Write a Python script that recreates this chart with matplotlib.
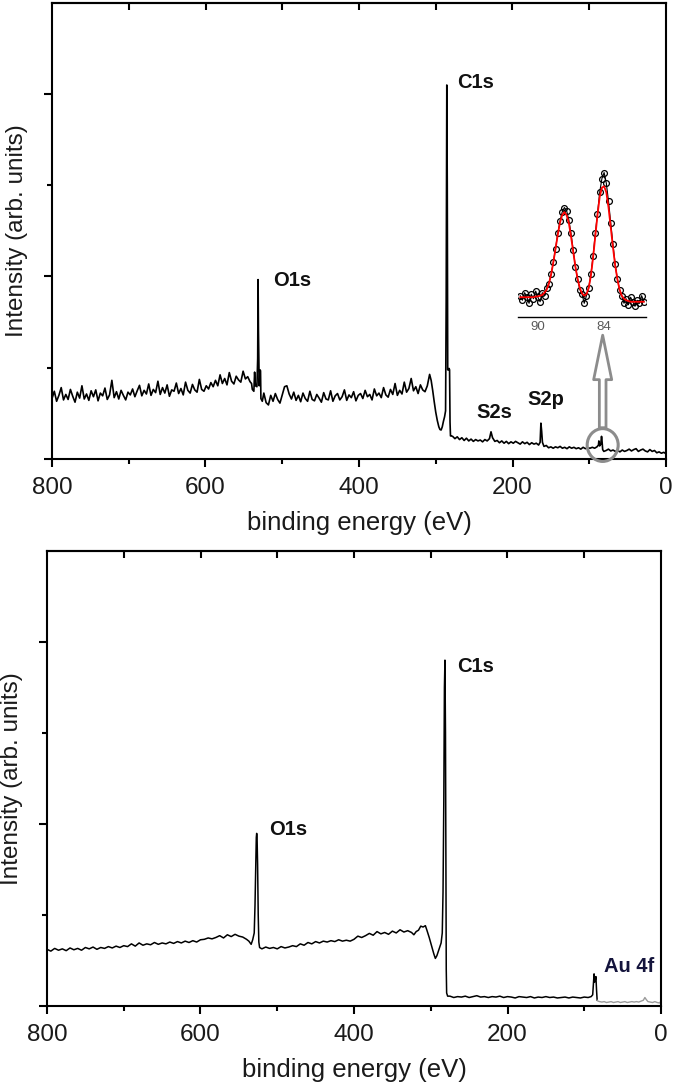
import numpy as np
import matplotlib
matplotlib.use("Agg")
import matplotlib.pyplot as plt
from matplotlib.patches import Ellipse
from matplotlib.ticker import MultipleLocator, FixedLocator, NullFormatter

plt.rcParams['font.family'] = ['Liberation Sans', 'DejaVu Sans']

# ---------------- top survey spectrum (intensity in % of axis height) ----------------
top_energy_a = np.arange(800, 700, -3)
top_int_a = [13.2, 14.8, 12.6, 13.9, 15.6, 12.9, 14.1, 13.0, 15.2, 13.7,
             12.4, 14.6, 13.3, 16.0, 13.1, 14.2, 12.8, 14.9, 13.6, 15.1,
             12.7, 14.4, 13.8, 15.5, 13.0, 14.0, 17.2, 13.4, 14.7, 13.1,
             15.0, 13.9, 12.9, 14.6]
top_energy_b = np.arange(698, 598, -3)
top_int_b = [14.0, 15.3, 13.6, 14.9, 16.1, 13.8, 15.0, 14.2, 16.4, 13.9,
             15.2, 14.5, 17.0, 14.1, 15.6, 14.4, 16.2, 13.7, 15.1, 14.8,
             16.6, 14.3, 15.4, 14.0, 16.8, 15.0, 14.4, 16.3, 15.1, 14.6,
             17.4, 15.2, 14.8, 16.0]
top_energy_c = np.arange(596, 541, -3)
top_int_c = [15.3, 16.7, 15.8, 17.2, 16.0, 18.4, 16.5, 17.6, 16.2, 18.9,
             17.0, 16.4, 18.1, 17.3, 16.8, 19.2, 17.5, 18.0, 16.9]
top_energy_o1s = [540, 539, 537, 536, 535, 533, 532, 531.5, 531, 530, 529, 528.3, 527.8, 526, 524, 521]
top_int_o1s = [16.5, 15.2, 14.8, 19.0, 16.0, 15.8, 22.0, 39.3, 28.0, 16.0, 19.5, 19.3, 13.2, 12.6, 14.4, 12.3]
top_energy_d = np.arange(518, 307, -3)
top_int_d = [11.8, 13.9, 12.6, 14.3, 13.0, 12.2, 14.0, 15.8,
             16.0, 14.2, 13.1, 14.6, 12.8, 13.9, 12.5, 14.4, 13.2, 12.6, 14.8, 13.0, 12.7, 14.1, 13.3,
             12.4, 14.5, 13.1, 12.9, 14.9, 12.6, 13.8, 14.3, 12.9, 13.6, 15.1, 12.8, 14.0, 13.4, 14.7, 12.7, 13.9,
             14.3, 13.2, 15.0, 13.6, 14.1, 12.9, 15.3, 13.8, 14.4, 13.4, 15.6, 14.0, 13.5, 15.2, 14.1, 16.5, 13.9,
             15.0, 14.2, 16.8, 14.6, 15.4, 17.6, 14.9, 15.8, 14.3, 16.2, 15.1, 14.7, 16.0, 18.5]
top_energy_c1s = [306, 304, 302, 300, 298, 296, 294.5, 293, 291.5, 290, 288.5, 287.2, 286.4,
                  285.6, 285.0, 284.4, 283.2, 282.6, 282.0, 281.4, 280.8]
top_int_c1s = [17.2, 15.0, 12.5, 10.2, 8.4, 7.0, 6.4, 6.3, 7.0, 8.2, 9.2, 10.5, 35.0,
               82.0, 60.0, 19.5, 19.5, 19.8, 19.5, 8.0, 5.0]
top_energy_e = [279.8, 278, 275, 272, 269, 266, 263, 260, 257, 254,
                251, 248, 245, 242, 239, 236, 233, 230, 228, 226,
                223, 220, 217, 214, 211, 208, 205, 202, 199, 196,
                193, 190, 187, 184, 181, 178, 175, 172, 169, 166,
                164, 163, 162, 161, 159, 156, 153, 150, 147, 144,
                141, 138, 135, 132, 129, 126, 123, 120, 117, 114,
                111, 108, 105, 102, 99, 96, 93, 90, 88, 87.5,
                86.5, 85, 84, 83.5, 82.5, 81, 78, 75, 72, 69,
                66, 63, 60, 57, 54, 51, 48, 45, 42, 39,
                36, 33, 30, 27, 24, 21, 18, 15, 12, 9,
                6, 3, 0]
top_int_e = [5.0, 4.9, 4.4, 4.8, 4.2, 4.6, 4.0, 4.5, 3.9, 4.3,
             3.8, 4.2, 3.9, 4.1, 3.7, 4.2, 3.9, 4.4, 5.9, 4.6,
             3.8, 4.0, 3.5, 3.9, 3.4, 3.8, 3.3, 3.7, 3.4, 3.8,
             3.5, 3.2, 3.7, 3.3, 3.6, 3.1, 3.5, 3.2, 3.4, 3.0,
             3.6, 7.8, 6.0, 3.6, 2.7, 2.9, 2.4, 2.6, 2.3, 2.6,
             2.4, 2.7, 2.3, 2.5, 2.2, 2.6, 2.3, 2.5, 2.2, 2.4,
             2.1, 2.5, 2.2, 2.4, 2.3, 2.5, 2.3, 2.6, 3.0, 3.9,
             2.8, 3.2, 4.9, 4.2, 2.0, 1.6, 1.8, 2.1, 1.7, 1.9,
             1.6, 1.8, 1.5, 1.9, 1.6, 1.8, 2.1, 1.7, 2.0, 2.2,
             1.6, 1.9, 2.1, 1.7, 1.5, 2.0, 1.6, 1.8, 1.3, 1.5,
             1.2, 1.4, 1.1]

# ---------------- inset: Au 4f high resolution ----------------
inset_energy = np.round(np.arange(91.6, 80.3, -0.2), 1)
inset_counts = [14, 11, 16, 13, 9, 15, 12, 17, 13, 10, 16, 14,
                19, 22, 28, 36, 45, 55, 63, 69, 72, 70, 64, 55, 44, 33, 25, 18, 15,
                9, 14, 19, 28, 40, 55, 68, 82, 91, 95, 88, 76, 62, 48, 35, 25, 18, 14,
                9, 12, 8, 13, 10, 7, 11, 9, 14, 10]
inset_fit = [13, 13, 13, 13, 13, 13, 13, 13.5, 13.5, 14, 14.5, 16,
             18, 22, 28, 36, 45, 54, 62, 67, 69, 67, 62, 53, 43, 33, 25, 19, 15.5,
             14, 15, 19, 27, 39, 53, 67, 79, 85, 86, 82, 72, 59, 46, 34, 25, 18, 14,
             12, 11, 10.5, 10, 10, 10, 10, 10, 10, 10]

# ---------------- bottom survey spectrum ----------------
bot_energy_a = np.arange(800, 539, -5)
bot_int_a = [12.4, 12.0, 12.6, 12.2, 12.5, 12.1, 12.7, 12.3, 12.6, 12.2,
             12.8, 12.5, 12.9, 12.4, 12.8, 12.6, 13.0, 12.7, 13.1, 12.8,
             13.2, 13.0, 13.6, 13.1, 13.8, 13.3, 13.6, 13.4, 13.9, 13.5,
             13.8, 13.6, 14.0, 13.7, 14.1, 13.8, 14.2, 13.9, 14.3, 14.0,
             14.5, 14.6, 14.9, 14.7, 15.0, 15.4, 14.9, 15.6, 15.2, 15.7,
             15.3, 15.1, 14.6]
bot_energy_o1s = [537, 534, 532, 530, 529, 528, 527.3, 526.8, 526.3, 525.6, 524.8, 524, 523, 520]
bot_int_o1s = [14.2, 13.5, 14.5, 16.0, 22.0, 31.0, 37.0, 37.9, 37.0, 31.0, 20.0, 14.0, 12.8, 12.5]
bot_energy_b = np.arange(515, 324, -5)
bot_int_b = [12.9, 12.6, 12.8, 12.5, 13.0, 12.7, 12.9, 13.2, 13.0, 13.6,
             13.3, 13.9, 13.6, 14.1, 13.8, 14.2, 14.0, 14.3, 14.1, 14.5,
             14.2, 14.4, 14.2, 14.6, 15.3, 15.0, 15.4, 15.9, 15.5, 16.3,
             15.8, 16.1, 15.7, 16.4, 16.0, 16.7, 16.2, 16.5, 16.1]
bot_energy_c1s = [322, 319, 316, 313, 310, 307, 305, 302, 300, 298,
                  296, 294, 292, 290, 288, 286.5, 285, 284, 283, 282.2,
                  281.5, 280.8, 280.3, 279.8, 279.3, 278]
bot_int_c1s = [15.6, 16.3, 16.6, 17.5, 17.3, 17.6, 16.6, 15.0, 13.8, 12.6,
               11.4, 10.4, 11.0, 12.0, 13.0, 13.8, 16.0, 25.0, 45.0, 70.0,
               76.0, 60.0, 30.0, 8.0, 2.8, 2.1]
bot_energy_flat = np.arange(275, 94, -5)
bot_int_flat = [2.1, 1.8, 2.0, 1.9, 2.1, 1.8, 2.0, 2.2, 1.9, 2.0,
                1.8, 2.0, 1.9, 2.1, 1.8, 2.0, 1.9, 1.7, 2.0, 1.9,
                1.8, 2.0, 1.7, 1.9, 1.8, 2.0, 1.8, 1.9, 1.7, 1.8,
                1.9, 1.7, 1.9, 1.8, 1.7, 1.9, 1.8]
bot_energy_au = [91, 89, 88, 87.2, 86.5, 85.8, 84.8, 84, 83.2]
bot_int_au = [2.0, 2.4, 5.0, 7.0, 5.2, 5.5, 6.4, 3.5, 1.2]
bot_energy_tail = [83.2, 82, 80, 77, 74, 71, 68, 65, 62, 59,
                   56, 53, 50, 47, 44, 41, 38, 35, 32, 29,
                   26, 23, 21, 19, 17, 14, 11, 8, 5, 2, 0]
bot_int_tail = [1.2, 1.0, 0.9, 0.8, 0.9, 0.7, 0.8, 0.9, 0.7, 0.8,
                0.9, 0.7, 0.8, 0.9, 0.7, 0.8, 0.9, 0.8, 0.9, 0.8,
                1.0, 1.2, 1.8, 1.3, 0.9, 0.8, 0.7, 0.9, 0.7, 0.6, 1.0]

top_peaks = ["O1s", "C1s", "S2s", "S2p"]
bot_peaks = ["O1s", "C1s", "Au 4f"]

top_energy = np.concatenate([top_energy_a, top_energy_b, top_energy_c, top_energy_o1s,
                             top_energy_d, top_energy_c1s, top_energy_e])
top_intensity = np.concatenate([top_int_a, top_int_b, top_int_c, top_int_o1s,
                                top_int_d, top_int_c1s, top_int_e])
bot_energy = np.concatenate([bot_energy_a, bot_energy_o1s, bot_energy_b, bot_energy_c1s,
                             bot_energy_flat, bot_energy_au])
bot_intensity = np.concatenate([bot_int_a, bot_int_o1s, bot_int_b, bot_int_c1s,
                                bot_int_flat, bot_int_au])

TXT = '#1a1a1a'
fig = plt.figure(figsize=(6.75, 10.83), dpi=100)
ax1 = fig.add_axes([52 / 675, (1083 - 458.7) / 1083, 614 / 675, 455.7 / 1083])
ax2 = fig.add_axes([47 / 675, (1083 - 1005.7) / 1083, 614 / 675, 454.7 / 1083])


def style(ax):
    ax.set_xlim(800, 0)
    ax.set_ylim(0, 100)
    for s in ax.spines.values():
        s.set_linewidth(1.5)
    ax.xaxis.set_major_locator(MultipleLocator(200))
    ax.xaxis.set_minor_locator(MultipleLocator(100))
    ax.yaxis.set_major_locator(FixedLocator([0, 40, 80]))
    ax.yaxis.set_minor_locator(FixedLocator([20, 60]))
    ax.yaxis.set_major_formatter(NullFormatter())
    ax.tick_params(axis='x', which='major', direction='out', length=6, width=1.5,
                   labelsize=17.5, labelcolor=TXT, pad=7, top=False)
    ax.tick_params(axis='x', which='minor', direction='out', length=3.5, width=1.5, top=False)
    ax.tick_params(axis='y', which='major', direction='out', length=6, width=1.5,
                   labelleft=False, right=False)
    ax.tick_params(axis='y', which='minor', direction='out', length=3.5, width=1.5, right=False)
    sec = ax.secondary_xaxis('top')
    sec.xaxis.set_major_locator(FixedLocator(list(range(100, 800, 100))))
    sec.xaxis.set_major_formatter(NullFormatter())
    sec.tick_params(axis='x', direction='in', length=5, width=1.5)
    sec.spines['top'].set_linewidth(1.5)
    ax.set_xlabel('binding energy (eV)', fontsize=18.5, color=TXT, labelpad=9)
    ax.set_ylabel('Intensity (arb. units)', fontsize=17.5, color=TXT)
    ax.yaxis.set_label_coords(-0.039, 0.5)


style(ax1)
style(ax2)

# top survey
ax1.plot(top_energy, top_intensity, color='black', lw=1.2)
lab_kw = dict(fontsize=14.5, fontweight='bold', color='#111111', ha='left', va='baseline')
ax1.text(512, 37.9, top_peaks[0], **lab_kw)
ax1.text(271.5, 81.3, top_peaks[1], **lab_kw)
ax1.text(247.6, 8.9, top_peaks[2], **lab_kw)
ax1.text(180, 11.8, top_peaks[3], **lab_kw)

# inset
ins = ax1.inset_axes([0.759, 0.311, 0.2085, 0.3336])
ins.patch.set_visible(False)
for k in ('top', 'left', 'right'):
    ins.spines[k].set_visible(False)
ins.spines['bottom'].set_linewidth(1.0)
ins.set_xlim(91.8, 80.2)
ins.set_ylim(0, 100)
ins.set_yticks([])
ins.set_xticks([90, 84])
ins.tick_params(axis='x', length=0, pad=3, labelsize=9.5, labelcolor='#5a5a5a')
ins.plot(inset_energy, inset_counts, color='black', lw=0.8)
ins.plot(inset_energy, inset_counts, ls='none', marker='o', ms=4.2, mfc='none',
         mec='black', mew=0.9)
ins.plot(inset_energy, inset_fit, color='#ff0000', lw=1.3)

# arrow + ellipse marking Au 4f region
ax1.annotate('', xy=(82.5, 27.1), xytext=(82.5, 6.8),
             arrowprops=dict(arrowstyle='simple,head_length=1.6,head_width=0.65,tail_width=0.24',
                             fc='white', ec='#8c8c8c', lw=2, mutation_scale=20,
                             shrinkA=0, shrinkB=0))
ax1.add_patch(Ellipse((82.5, 3.0), width=40.4, height=7.2, fill=False, ec='#8c8c8c',
                      lw=2.2, clip_on=False, zorder=5))

# bottom survey
ax2.plot(bot_energy, bot_intensity, color='black', lw=1.1)
ax2.plot(bot_energy_tail, bot_int_tail, color='#9a9a9a', lw=1.0)
ax2.text(510, 37.6, bot_peaks[0], **lab_kw)
ax2.text(265, 73.3, bot_peaks[1], **lab_kw)
ax2.text(74, 7.5, bot_peaks[2], **dict(lab_kw, color='#14143c'))

fig.savefig('out.png', dpi=100)
